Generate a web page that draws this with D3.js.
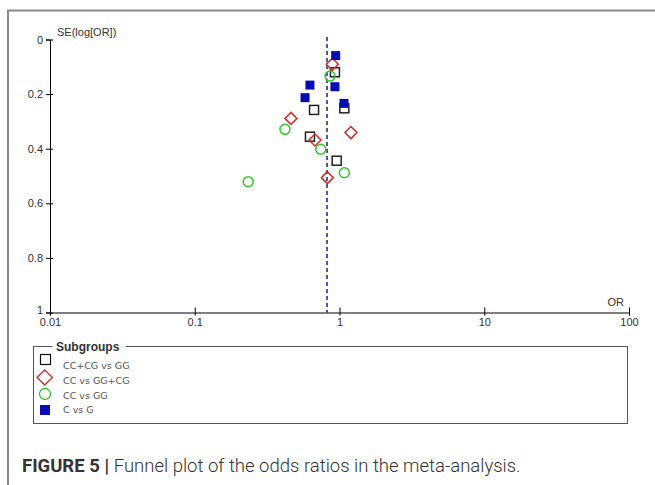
<!DOCTYPE html>
<html>
<head>
<meta charset="utf-8">
<script src="https://cdn.jsdelivr.net/npm/d3@7"></script>
<style>
  body { margin: 0; background: #fff; }
  svg { display: block; }
</style>
</head>
<body>
<svg></svg>
<script>

// subgroup names, in legend order
var subgroups = ["CC+CG vs GG", "CC vs GG+CG", "CC vs GG", "C vs G"];

// [OR, SE(log OR)] for each study
var ccCgVsGG = [[0.93, 0.120], [0.667, 0.258], [1.08, 0.252], [0.625, 0.356], [0.956, 0.444]];
var ccVsGgCg = [[0.892, 0.091], [0.462, 0.289], [0.677, 0.368], [1.20, 0.341], [0.824, 0.506]];
var ccVsGG   = [[0.860, 0.134], [0.420, 0.329], [0.742, 0.402], [1.08, 0.488], [0.234, 0.521]];
var cVsG     = [[0.941, 0.059], [0.625, 0.167], [0.93, 0.173], [0.578, 0.213], [1.074, 0.234]];

var pooledOR = 0.82;

var xTicks = [0.01, 0.1, 1, 10, 100];
var yTicks = [0, 0.2, 0.4, 0.6, 0.8, 1];

var svgWidth = 655, svgHeight = 485;

var svg = d3.select("svg")
    .attr("width", svgWidth)
    .attr("height", svgHeight);

var x = d3.scaleLog().domain([0.01, 100]).range([50, 629]);
var y = d3.scaleLinear().domain([0, 1]).range([39.5, 312.5]);

// outer frame (top and left edges only)
svg.append("path")
    .attr("d", "M8,485 L8,10.5 L655,10.5")
    .attr("fill", "none")
    .attr("stroke", "#8a8a8a")
    .attr("stroke-width", 2);

// y axis
var yAxis = svg.append("g")
    .attr("transform", "translate(" + x(0.01) + ",0)")
    .call(d3.axisLeft(y).tickValues(yTicks).tickFormat(d3.format("")).tickSize(4).tickPadding(3));
yAxis.selectAll(".tick line").attr("x2", 3).attr("x1", -4);
yAxis.selectAll(".tick text").filter(function(d) { return d === 1; }).attr("dy", "0.05em");

// x axis
var xAxis = svg.append("g")
    .attr("transform", "translate(0," + y(1) + ")")
    .call(d3.axisBottom(x).tickValues(xTicks).tickFormat(function(d) { return String(d); }).tickSize(3).tickPadding(3));
xAxis.selectAll(".tick line").attr("y1", -5).attr("y2", 3);

svg.selectAll(".domain").attr("stroke", "#000");
svg.selectAll(".tick line").attr("stroke", "#000");
svg.selectAll(".tick text")
    .attr("font-family", "Liberation Sans, Arial, sans-serif")
    .attr("font-size", 11)
    .attr("fill", "#333");

svg.append("text")
    .attr("x", 57).attr("y", 36)
    .attr("font-family", "Liberation Sans, Arial, sans-serif")
    .attr("font-size", 11)
    .attr("fill", "#333")
    .text("SE(log[OR])");

svg.append("text")
    .attr("x", 624).attr("y", 306)
    .attr("text-anchor", "end")
    .attr("font-family", "Liberation Sans, Arial, sans-serif")
    .attr("font-size", 11)
    .attr("fill", "#333")
    .text("OR");

// pooled estimate
svg.append("line")
    .attr("x1", x(pooledOR)).attr("x2", x(pooledOR))
    .attr("y1", 37).attr("y2", y(1))
    .attr("stroke", "#1c1ca8")
    .attr("stroke-width", 1.5)
    .attr("stroke-dasharray", "4,3");

// markers
svg.selectAll("rect.black")
    .data(ccCgVsGG)
    .enter()
    .append("rect")
    .attr("x", function(d) { return x(d[0]) - 4.5; })
    .attr("y", function(d) { return y(d[1]) - 4.5; })
    .attr("width", 9).attr("height", 9)
    .attr("fill", "none")
    .attr("stroke", "#222")
    .attr("stroke-width", 1.5);

svg.selectAll("path.red")
    .data(ccVsGgCg)
    .enter()
    .append("path")
    .attr("d", "M0,-6 L6,0 L0,6 L-6,0 Z")
    .attr("transform", function(d) { return "translate(" + x(d[0]) + "," + y(d[1]) + ")"; })
    .attr("fill", "none")
    .attr("stroke", "#d42a2a")
    .attr("stroke-width", 1.5);

svg.selectAll("circle.green")
    .data(ccVsGG)
    .enter()
    .append("circle")
    .attr("cx", function(d) { return x(d[0]); })
    .attr("cy", function(d) { return y(d[1]); })
    .attr("r", 5)
    .attr("fill", "none")
    .attr("stroke", "#2ec82e")
    .attr("stroke-width", 1.5);

svg.selectAll("rect.blue")
    .data(cVsG)
    .enter()
    .append("rect")
    .attr("x", function(d) { return x(d[0]) - 4.5; })
    .attr("y", function(d) { return y(d[1]) - 4.5; })
    .attr("width", 9).attr("height", 9)
    .attr("fill", "#0a0ab4");

// legend
svg.append("rect")
    .attr("x", 33.5).attr("y", 346.5)
    .attr("width", 594).attr("height", 77)
    .attr("fill", "none")
    .attr("stroke", "#555");

svg.append("rect")
    .attr("x", 52).attr("y", 340)
    .attr("width", 74).attr("height", 12)
    .attr("fill", "#fff");

svg.append("text")
    .attr("x", 56).attr("y", 351)
    .attr("font-family", "Liberation Sans, Arial, sans-serif")
    .attr("font-size", 12)
    .attr("font-weight", "bold")
    .attr("fill", "#333")
    .text("Subgroups");

svg.append("rect")
    .attr("x", 40.5).attr("y", 354.5).attr("width", 10).attr("height", 10)
    .attr("fill", "none").attr("stroke", "#111").attr("stroke-width", 1.2);
svg.append("path")
    .attr("d", "M44.7,370 L52.5,377.5 L44.7,385 L37,377.5 Z")
    .attr("fill", "none").attr("stroke", "#d42a2a").attr("stroke-width", 1.3);
svg.append("circle")
    .attr("cx", 45).attr("cy", 394).attr("r", 5.5)
    .attr("fill", "none").attr("stroke", "#2ec82e").attr("stroke-width", 1.3);
svg.append("rect")
    .attr("x", 40).attr("y", 405).attr("width", 10).attr("height", 10)
    .attr("fill", "#0a0ab4");

var legendY = [366, 381, 396, 410];
svg.selectAll("text.legend")
    .data(subgroups)
    .enter()
    .append("text")
    .attr("x", 63)
    .attr("y", function(d, i) { return legendY[i]; })
    .attr("dy", "0.35em")
    .attr("font-family", "DejaVu Sans, sans-serif")
    .attr("font-size", 9.5)
    .attr("fill", "#555")
    .text(function(d) { return d; });

// caption
var caption = svg.append("text")
    .attr("x", 22).attr("y", 472)
    .attr("font-family", "Roboto, Liberation Sans, sans-serif")
    .attr("font-size", 18.5)
    .attr("fill", "#333");
caption.append("tspan").attr("font-weight", "bold").text("FIGURE 5 | ");
caption.append("tspan").attr("font-weight", 300).text("Funnel plot of the odds ratios in the meta-analysis.");

</script>
</body>
</html>
